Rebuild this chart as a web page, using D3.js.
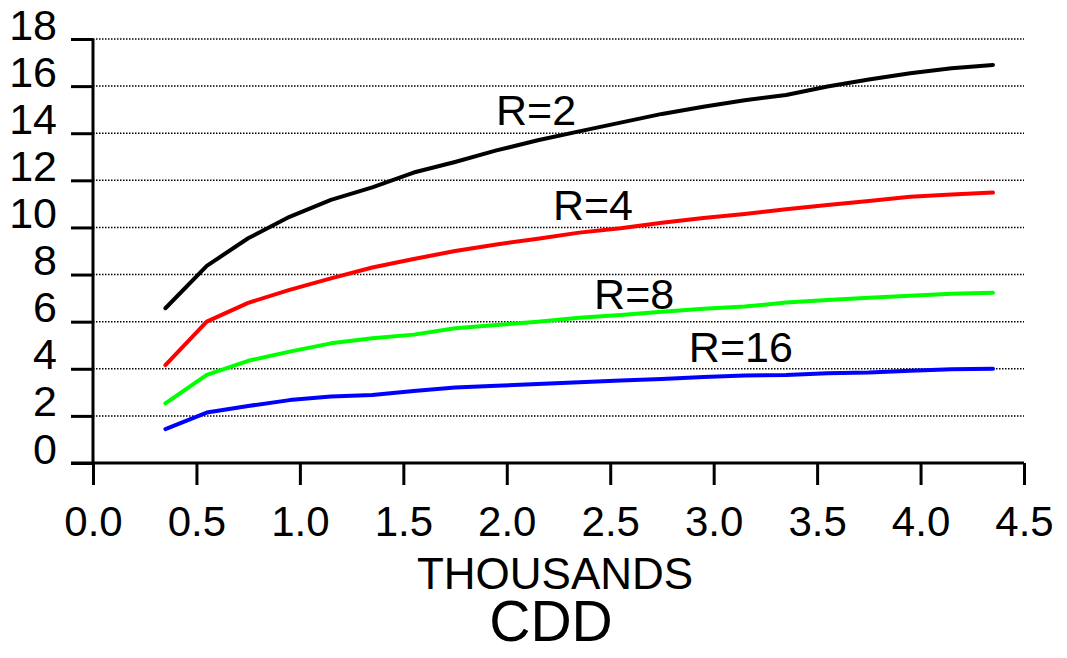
<!DOCTYPE html>
<html><head><meta charset="utf-8">
<script src="https://cdn.jsdelivr.net/npm/d3@7"></script>
<style>
html,body{margin:0;padding:0;background:#fff;}
svg{display:block;font-family:"Liberation Sans",Arial,sans-serif;}
</style></head>
<body>
<svg id="chart" width="1067" height="658"></svg>
<script>
const xValues = [0.35,0.55,0.75,0.95,1.15,1.35,1.55,1.75,1.95,2.15,2.35,2.55,2.75,2.95,3.15,3.35,3.55,3.75,3.95,4.15,4.35];
const r2  = [6.57,8.37,9.54,10.45,11.17,11.7,12.33,12.78,13.27,13.7,14.08,14.45,14.82,15.12,15.4,15.62,15.98,16.28,16.55,16.76,16.9];
const r4  = [4.16,6.0,6.8,7.35,7.84,8.3,8.66,9.0,9.28,9.52,9.78,9.97,10.2,10.4,10.57,10.77,10.95,11.12,11.3,11.4,11.48];
const r8  = [2.53,3.74,4.34,4.73,5.08,5.3,5.45,5.72,5.86,6.0,6.17,6.28,6.42,6.55,6.64,6.81,6.92,7.02,7.1,7.18,7.23];
const r16 = [1.44,2.14,2.42,2.67,2.82,2.89,3.06,3.21,3.28,3.35,3.43,3.5,3.57,3.65,3.71,3.74,3.81,3.84,3.92,3.98,4.0];
const seriesNames = ["R=2","R=4","R=8","R=16"];
const seriesColors = ["#000000","#ff0000","#00ff00","#0000ff"];
const labelX = [1.948,2.223,2.422,2.88];
const labelY = [14.35,10.31,6.54,4.29];
const xTicks = [0,0.5,1,1.5,2,2.5,3,3.5,4,4.5];
const yTicks = [0,2,4,6,8,10,12,14,16,18];
const xTitle = "THOUSANDS";
const xTitle2 = "CDD";

const svg = d3.select("#chart");
const x = d3.scaleLinear().domain([0,4.5]).range([93,1024]);
const y = d3.scaleLinear().domain([0,18]).range([463,39]);

// gridlines
svg.append("g").selectAll("line").data(yTicks.filter(d=>d>0)).join("line")
  .attr("x1",x(0)).attr("x2",x(4.5))
  .attr("y1",d=>y(d)).attr("y2",d=>y(d))
  .attr("stroke","#000").attr("stroke-width",1.5).attr("stroke-dasharray","1.5,1.5");

// y axis
const yAxis = d3.axisLeft(y).tickValues(yTicks).tickSize(22).tickPadding(14).tickFormat(d3.format("d"));
const gy = svg.append("g").attr("transform",`translate(${x(0)},0)`).call(yAxis);
gy.select(".domain").attr("stroke","#000").attr("stroke-width",3).attr("d",`M0,${y(18)}V${y(0)}`);
gy.selectAll(".tick line").attr("stroke","#000").attr("stroke-width",3);
gy.selectAll(".tick text").attr("font-size",43).attr("fill","#000").attr("dy","0").attr("font-family","Liberation Sans, Arial, sans-serif");

// x axis
const xAxis = d3.axisBottom(x).tickValues(xTicks).tickSize(22).tickPadding(21).tickFormat(d3.format(".1f"));
const gx = svg.append("g").attr("transform",`translate(0,${y(0)})`).call(xAxis);
gx.select(".domain").attr("stroke","#000").attr("stroke-width",3).attr("d",`M${x(0)-22},0H${x(4.5)}`);
gx.selectAll(".tick line").attr("stroke","#000").attr("stroke-width",3);
gx.selectAll(".tick text").attr("font-size",42).attr("fill","#000").attr("font-family","Liberation Sans, Arial, sans-serif");

// lines
const allSeries = [r2,r4,r8,r16];
const line = d3.line().x((d,i)=>x(xValues[i])).y(d=>y(d));
svg.append("g").selectAll("path").data(allSeries).join("path")
  .attr("d",d=>line(d)).attr("fill","none")
  .attr("stroke",(d,i)=>seriesColors[i]).attr("stroke-width",4)
  .attr("stroke-linejoin","round").attr("stroke-linecap","round");

// labels
svg.append("g").selectAll("text").data(seriesNames).join("text")
  .attr("x",(d,i)=>x(labelX[i])).attr("y",(d,i)=>y(labelY[i]))
  .attr("font-size",43).attr("fill","#000").text(d=>d);

// titles
svg.append("text").attr("x",555).attr("y",589).attr("text-anchor","middle")
  .attr("font-size",44).attr("fill","#000").text(xTitle);
svg.append("text").attr("x",551).attr("y",641).attr("text-anchor","middle")
  .attr("font-size",57).attr("fill","#000").text(xTitle2);
</script>
</body></html>
